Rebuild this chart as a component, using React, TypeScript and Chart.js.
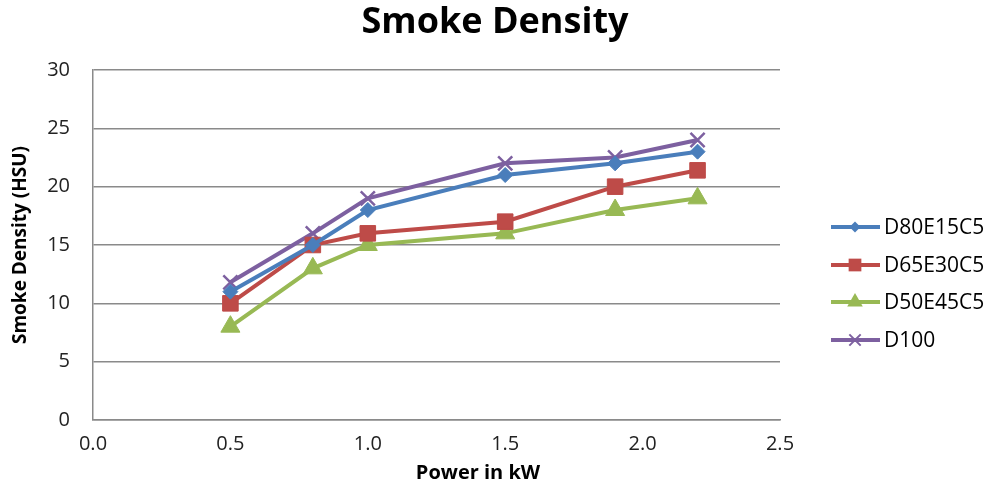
import React, { useEffect, useRef } from "react";
import { Chart, registerables } from "chart.js";

Chart.register(...registerables);

const powerKW = [0.5, 0.8, 1.0, 1.5, 1.9, 2.2];
const seriesNames = ["D80E15C5", "D65E30C5", "D50E45C5", "D100"];
const d80e15c5 = [11, 15, 18, 21, 22, 23];
const d65e30c5 = [10, 15, 16, 17, 20, 21.4];
const d50e45c5 = [8, 13, 15, 16, 18, 19];
const d100 = [11.8, 16, 19, 22, 22.5, 24];
const seriesValues = [d80e15c5, d65e30c5, d50e45c5, d100];
const seriesColors = ["#4A7EBB", "#BE4B48", "#98B954", "#7D60A0"];
const pointStyles = ["rectRot", "rect", "triangle", "crossRot"];
const pointRadii = [7.5, 11, 11, 10];
const legendRadii = [5.5, 9, 9, 8];

const FONT = "'Open Sans', 'Liberation Sans', sans-serif";

function drawMarker(ctx: CanvasRenderingContext2D, style: string, r: number, color: string, x: number, y: number) {
  ctx.save();
  ctx.fillStyle = color;
  ctx.strokeStyle = color;
  ctx.beginPath();
  if (style === "rectRot") {
    ctx.moveTo(x, y - r);
    ctx.lineTo(x + r, y);
    ctx.lineTo(x, y + r);
    ctx.lineTo(x - r, y);
    ctx.closePath();
    ctx.fill();
  } else if (style === "rect") {
    const s = r * Math.SQRT1_2;
    ctx.rect(x - s, y - s, 2 * s, 2 * s);
    ctx.fill();
  } else if (style === "triangle") {
    ctx.moveTo(x, y - r);
    ctx.lineTo(x + r * 0.866, y + r * 0.5);
    ctx.lineTo(x - r * 0.866, y + r * 0.5);
    ctx.closePath();
    ctx.fill();
  } else {
    const d = r * Math.SQRT1_2;
    ctx.lineWidth = 2;
    ctx.moveTo(x - d, y - d);
    ctx.lineTo(x + d, y + d);
    ctx.moveTo(x + d, y - d);
    ctx.lineTo(x - d, y + d);
    ctx.stroke();
  }
  ctx.restore();
}

const overlayPlugin = {
  id: "overlay",
  afterDraw(chart: any) {
    const ctx = chart.ctx;
    ctx.save();
    ctx.fillStyle = "#000";
    ctx.font = `bold 36px ${FONT}`;
    ctx.textAlign = "center";
    ctx.textBaseline = "middle";
    ctx.fillText("Smoke Density", 495, 23);
    ctx.font = `bold 20px ${FONT}`;
    ctx.fillText("Power in kW", 478, 473);
    const ys = [227, 265, 302, 340];
    chart.data.datasets.forEach((ds: any, i: number) => {
      const y = ys[i];
      ctx.strokeStyle = ds.borderColor;
      ctx.lineWidth = 4;
      ctx.beginPath();
      ctx.moveTo(831, y);
      ctx.lineTo(880, y);
      ctx.stroke();
      drawMarker(ctx, ds.pointStyle, legendRadii[i], ds.borderColor, 855, y);
      ctx.fillStyle = "#000";
      ctx.font = `21px ${FONT}`;
      ctx.textAlign = "left";
      ctx.fillText(ds.label, 884, y + 1);
    });
    ctx.restore();
  },
};

export default function App() {
  const canvasRef = useRef<HTMLCanvasElement>(null);

  useEffect(() => {
    document.body.style.margin = "0";
    const canvas = canvasRef.current;
    if (!canvas) return;
    const datasets = seriesNames.map((name, i) => ({
      label: name,
      data: powerKW.map((x, j) => ({ x, y: seriesValues[i][j] })),
      borderColor: seriesColors[i],
      backgroundColor: seriesColors[i],
      borderWidth: 4,
      pointStyle: pointStyles[i],
      pointRadius: pointRadii[i],
      pointBorderWidth: i === 3 ? 2.5 : 1,
      pointBackgroundColor: seriesColors[i],
      pointBorderColor: seriesColors[i],
      tension: 0,
    }));
    const chart = new Chart(canvas, {
      type: "line",
      data: { datasets },
      options: {
        animation: false,
        responsive: false,
        maintainAspectRatio: false,
        layout: { padding: { left: 0, right: 210, top: 70, bottom: 0 } },
        plugins: {
          legend: { display: false },
          title: { display: false },
          tooltip: { enabled: false },
        },
        scales: {
          x: {
            type: "linear",
            min: 0,
            max: 2.5,
            ticks: {
              stepSize: 0.5,
              color: "#222",
              font: { family: FONT, size: 20 },
              padding: 12,
              callback: (v: any) => Number(v).toFixed(1),
            },
            grid: { display: false, drawTicks: false },
            border: { display: true, color: "#8a8a8a", width: 1.5 },
            afterFit: (s: any) => { s.height = 65; },
          },
          y: {
            min: 0,
            max: 30,
            ticks: {
              stepSize: 5,
              color: "#222",
              font: { family: FONT, size: 20 },
              padding: 23,
            },
            grid: { color: "#8a8a8a", lineWidth: 1.5, drawTicks: false },
            border: { display: true, color: "#8a8a8a", width: 1.5 },
            title: {
              display: true,
              text: "Smoke Density (HSU)",
              color: "#000",
              font: { family: FONT, size: 19, weight: "bold" },
              padding: { top: 9, bottom: 0 },
            },
            afterFit: (s: any) => { s.width = 93; },
          },
        },
      },
      plugins: [overlayPlugin],
    });
    return () => chart.destroy();
  }, []);

  return (
    <div style={{ width: 990, height: 485, background: "#fff" }}>
      <canvas ref={canvasRef} width={990} height={485} style={{ width: 990, height: 485 }} />
    </div>
  );
}
